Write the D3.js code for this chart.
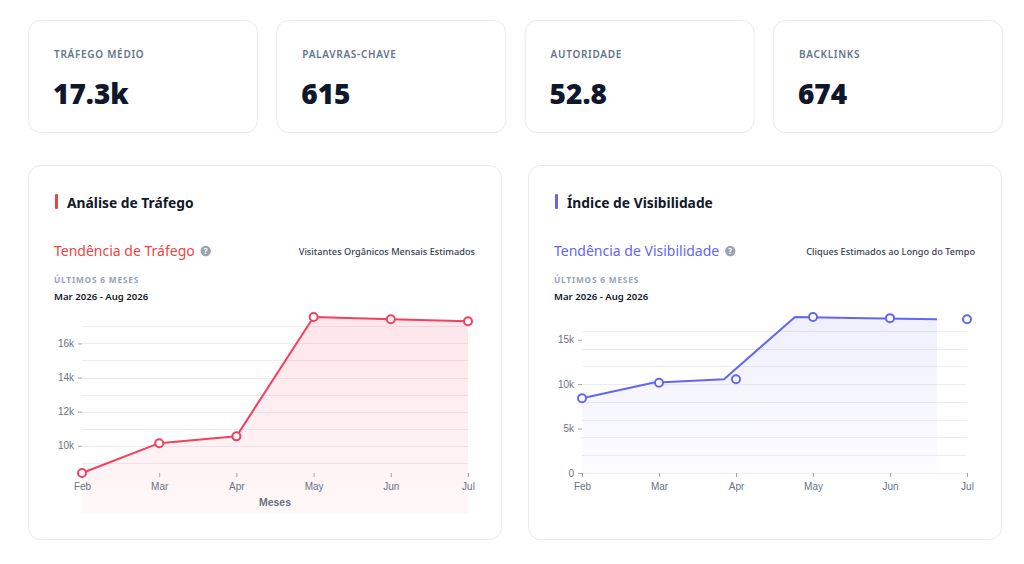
<!DOCTYPE html>
<html lang="pt">
<head>
  <meta charset="UTF-8">
  <title>SEO Dashboard</title>
  <script src="https://cdn.jsdelivr.net/npm/d3@7"></script>
  <style>
    html, body { margin: 0; padding: 0; background: #fff; }
    svg { display: block; font-family: "Noto Sans", "Open Sans", sans-serif; }
    .axis text { font-family: "Liberation Sans", Arial, sans-serif; font-size: 10px; fill: #6b7280; }
    .axis line { stroke: #9ca3af; }
  </style>
</head>
<body>
<svg id="page"></svg>
<script>
  const width = 1024, height = 564

  // cartões de resumo
  const statLabels = ['TRÁFEGO MÉDIO', 'PALAVRAS-CHAVE', 'AUTORIDADE', 'BACKLINKS']
  const statValues = ['17.3k', '615', '52.8', '674']

  // séries mensais
  const months = ['Feb', 'Mar', 'Apr', 'May', 'Jun', 'Jul']
  const traffic = [8400, 10150, 10550, 17550, 17420, 17300]
  const visibility = [8400, 10150, 10550, 17550, 17420, 17300]

  const svg = d3.select('#page')
      .attr('width', width)
      .attr('height', height)
      .attr('viewBox', [0, 0, width, height])

  const defs = svg.append('defs')

  //渐变
  function gradient(id, color, top, bottom) {
    const g = defs.append('linearGradient')
        .attr('id', id)
        .attr('x1', 0).attr('y1', 0).attr('x2', 0).attr('y2', 1)
    g.append('stop').attr('offset', '0%').attr('stop-color', color).attr('stop-opacity', top)
    g.append('stop').attr('offset', '100%').attr('stop-color', color).attr('stop-opacity', bottom)
  }
  gradient('gradRed', '#f43f5e', 0.13, 0.04)
  gradient('gradBlue', '#6366f1', 0.1, 0.02)

  // top cards
  const cardW = 229, cardGap = 19.3
  statLabels.forEach((label, i) => {
    const x = 28 + i * (cardW + cardGap)
    const g = svg.append('g').attr('transform', `translate(${x},20)`)
    g.append('rect')
        .attr('x', 0.5).attr('y', 0.5)
        .attr('width', cardW).attr('height', 112)
        .attr('rx', 12)
        .attr('fill', '#fff')
        .attr('stroke', '#e8eaef')
    g.append('text')
        .attr('x', 26).attr('y', 38)
        .attr('font-size', 10)
        .attr('font-weight', 600)
        .attr('letter-spacing', 0.7)
        .attr('fill', '#64748b')
        .text(label)
    g.append('text')
        .attr('x', 25).attr('y', 84)
        .attr('font-size', 28)
        .attr('font-weight', 900)
        .attr('fill', '#0f172a')
        .text(statValues[i])
  })

  function panel(opts) {
    const ox = opts.left
    const g = svg.append('g')
    g.append('rect')
        .attr('x', ox + 0.5).attr('y', 165.5)
        .attr('width', 473).attr('height', 374)
        .attr('rx', 12)
        .attr('fill', '#fff')
        .attr('stroke', '#e8eaef')
    g.append('rect')
        .attr('x', ox + 27).attr('y', 194)
        .attr('width', 3).attr('height', 15)
        .attr('rx', 1)
        .attr('fill', opts.color)
    g.append('text')
        .attr('x', ox + 39).attr('y', 207.5)
        .attr('font-size', 13.8)
        .attr('font-weight', 700)
        .attr('fill', '#111827')
        .text(opts.title)
    const sub = g.append('text')
        .attr('x', ox + 26).attr('y', 255.5)
        .attr('font-size', 14)
        .attr('fill', opts.color)
        .text(opts.subtitle)
    const subW = sub.node().getComputedTextLength()
    const ix = ox + 26 + subW + 11
    g.append('circle')
        .attr('cx', ix).attr('cy', 251)
        .attr('r', 5.2)
        .attr('fill', '#9ca3af')
    g.append('text')
        .attr('x', ix).attr('y', 254.3)
        .attr('text-anchor', 'middle')
        .attr('font-size', 8)
        .attr('font-weight', 700)
        .attr('fill', '#fff')
        .text('?')
    g.append('text')
        .attr('x', ox + 447).attr('y', 254.5)
        .attr('text-anchor', 'end')
        .attr('font-size', 9.2)
        .attr('font-weight', 500)
        .attr('fill', '#374151')
        .text(opts.note)
    g.append('text')
        .attr('x', ox + 26).attr('y', 282.5)
        .attr('font-size', 8.3)
        .attr('font-weight', 700)
        .attr('letter-spacing', 0.8)
        .attr('fill', '#9ca3af')
        .text('ÚLTIMOS 6 MESES')
    g.append('text')
        .attr('x', ox + 26).attr('y', 299.5)
        .attr('font-size', 9.6)
        .attr('font-weight', 600)
        .attr('fill', '#111827')
        .text('Mar 2026 - Aug 2026')
    return g
  }

  function chart(g, o) {
    const x = d3.scalePoint()
        .domain(months)
        .range(o.xRange)
    const xLine = d3.scalePoint()
        .domain(months)
        .range(o.lineRange)
    const y = d3.scaleLinear()
        .domain(o.domain)
        .range([473, 317])

    //网格
    g.append('g')
      .selectAll('line')
      .data(y.ticks(10))
      .join('line')
        .attr('x1', o.xRange[0]).attr('x2', o.xRange[1])
        .attr('y1', d => Math.round(y(d)) + 0.5)
        .attr('y2', d => Math.round(y(d)) + 0.5)
        .attr('stroke', '#ededed')

    const area = d3.area()
        .x((d, i) => xLine(months[i]))
        .y0(o.areaBottom)
        .y1(d => y(d))
    g.append('path')
        .attr('fill', `url(#${o.grad})`)
        .attr('d', area(o.values))

    //添加X轴
    g.append('g')
        .attr('class', 'axis')
        .attr('transform', 'translate(0,473)')
        .call(d3.axisBottom(x).tickSize(4).tickPadding(6))
        .call(a => a.select('.domain').remove())

    //添加Y轴
    g.append('g')
        .attr('class', 'axis')
        .attr('transform', `translate(${o.xRange[0]},0)`)
        .call(d3.axisLeft(y).ticks(5).tickSize(4).tickPadding(4).tickFormat(d3.format('~s')))
        .call(a => a.select('.domain').remove())

    if (o.xLabel) {
      g.append('text')
          .attr('x', (o.xRange[0] + o.xRange[1]) / 2)
          .attr('y', 506)
          .attr('text-anchor', 'middle')
          .attr('font-family', '"Liberation Sans", Arial, sans-serif')
          .attr('font-size', 10.5)
          .attr('font-weight', 700)
          .attr('fill', '#6b7280')
          .text(o.xLabel)
    }

    const line = d3.line()
        .x((d, i) => xLine(months[i]))
        .y(d => y(d))
    g.append('path')
        .attr('fill', 'none')
        .attr('stroke', o.color)
        .attr('stroke-width', 2)
        .attr('stroke-linejoin', 'round')
        .attr('d', line(o.values))

    g.append('g')
      .selectAll('circle')
      .data(o.values)
      .join('circle')
        .attr('cx', (d, i) => x(months[i]))
        .attr('cy', d => y(d))
        .attr('r', 4)
        .attr('fill', '#fff')
        .attr('stroke', o.color)
        .attr('stroke-width', 2)
  }

  const left = panel({
    left: 28,
    color: '#ef4444',
    title: 'Análise de Tráfego',
    subtitle: 'Tendência de Tráfego',
    note: 'Visitantes Orgânicos Mensais Estimados'
  })
  chart(left, {
    values: traffic,
    xRange: [82, 468],
    lineRange: [82, 468],
    domain: d3.extent(traffic),
    areaBottom: 513,
    grad: 'gradRed',
    color: '#f43f5e',
    xLabel: 'Meses'
  })

  const right = panel({
    left: 528,
    color: '#6366f1',
    title: 'Índice de Visibilidade',
    subtitle: 'Tendência de Visibilidade',
    note: 'Cliques Estimados ao Longo do Tempo'
  })
  chart(right, {
    values: visibility,
    xRange: [582, 967],
    lineRange: [582, 937],
    domain: [0, d3.max(visibility)],
    areaBottom: 473,
    grad: 'gradBlue',
    color: '#6366f1'
  })
</script>
</body>
</html>
